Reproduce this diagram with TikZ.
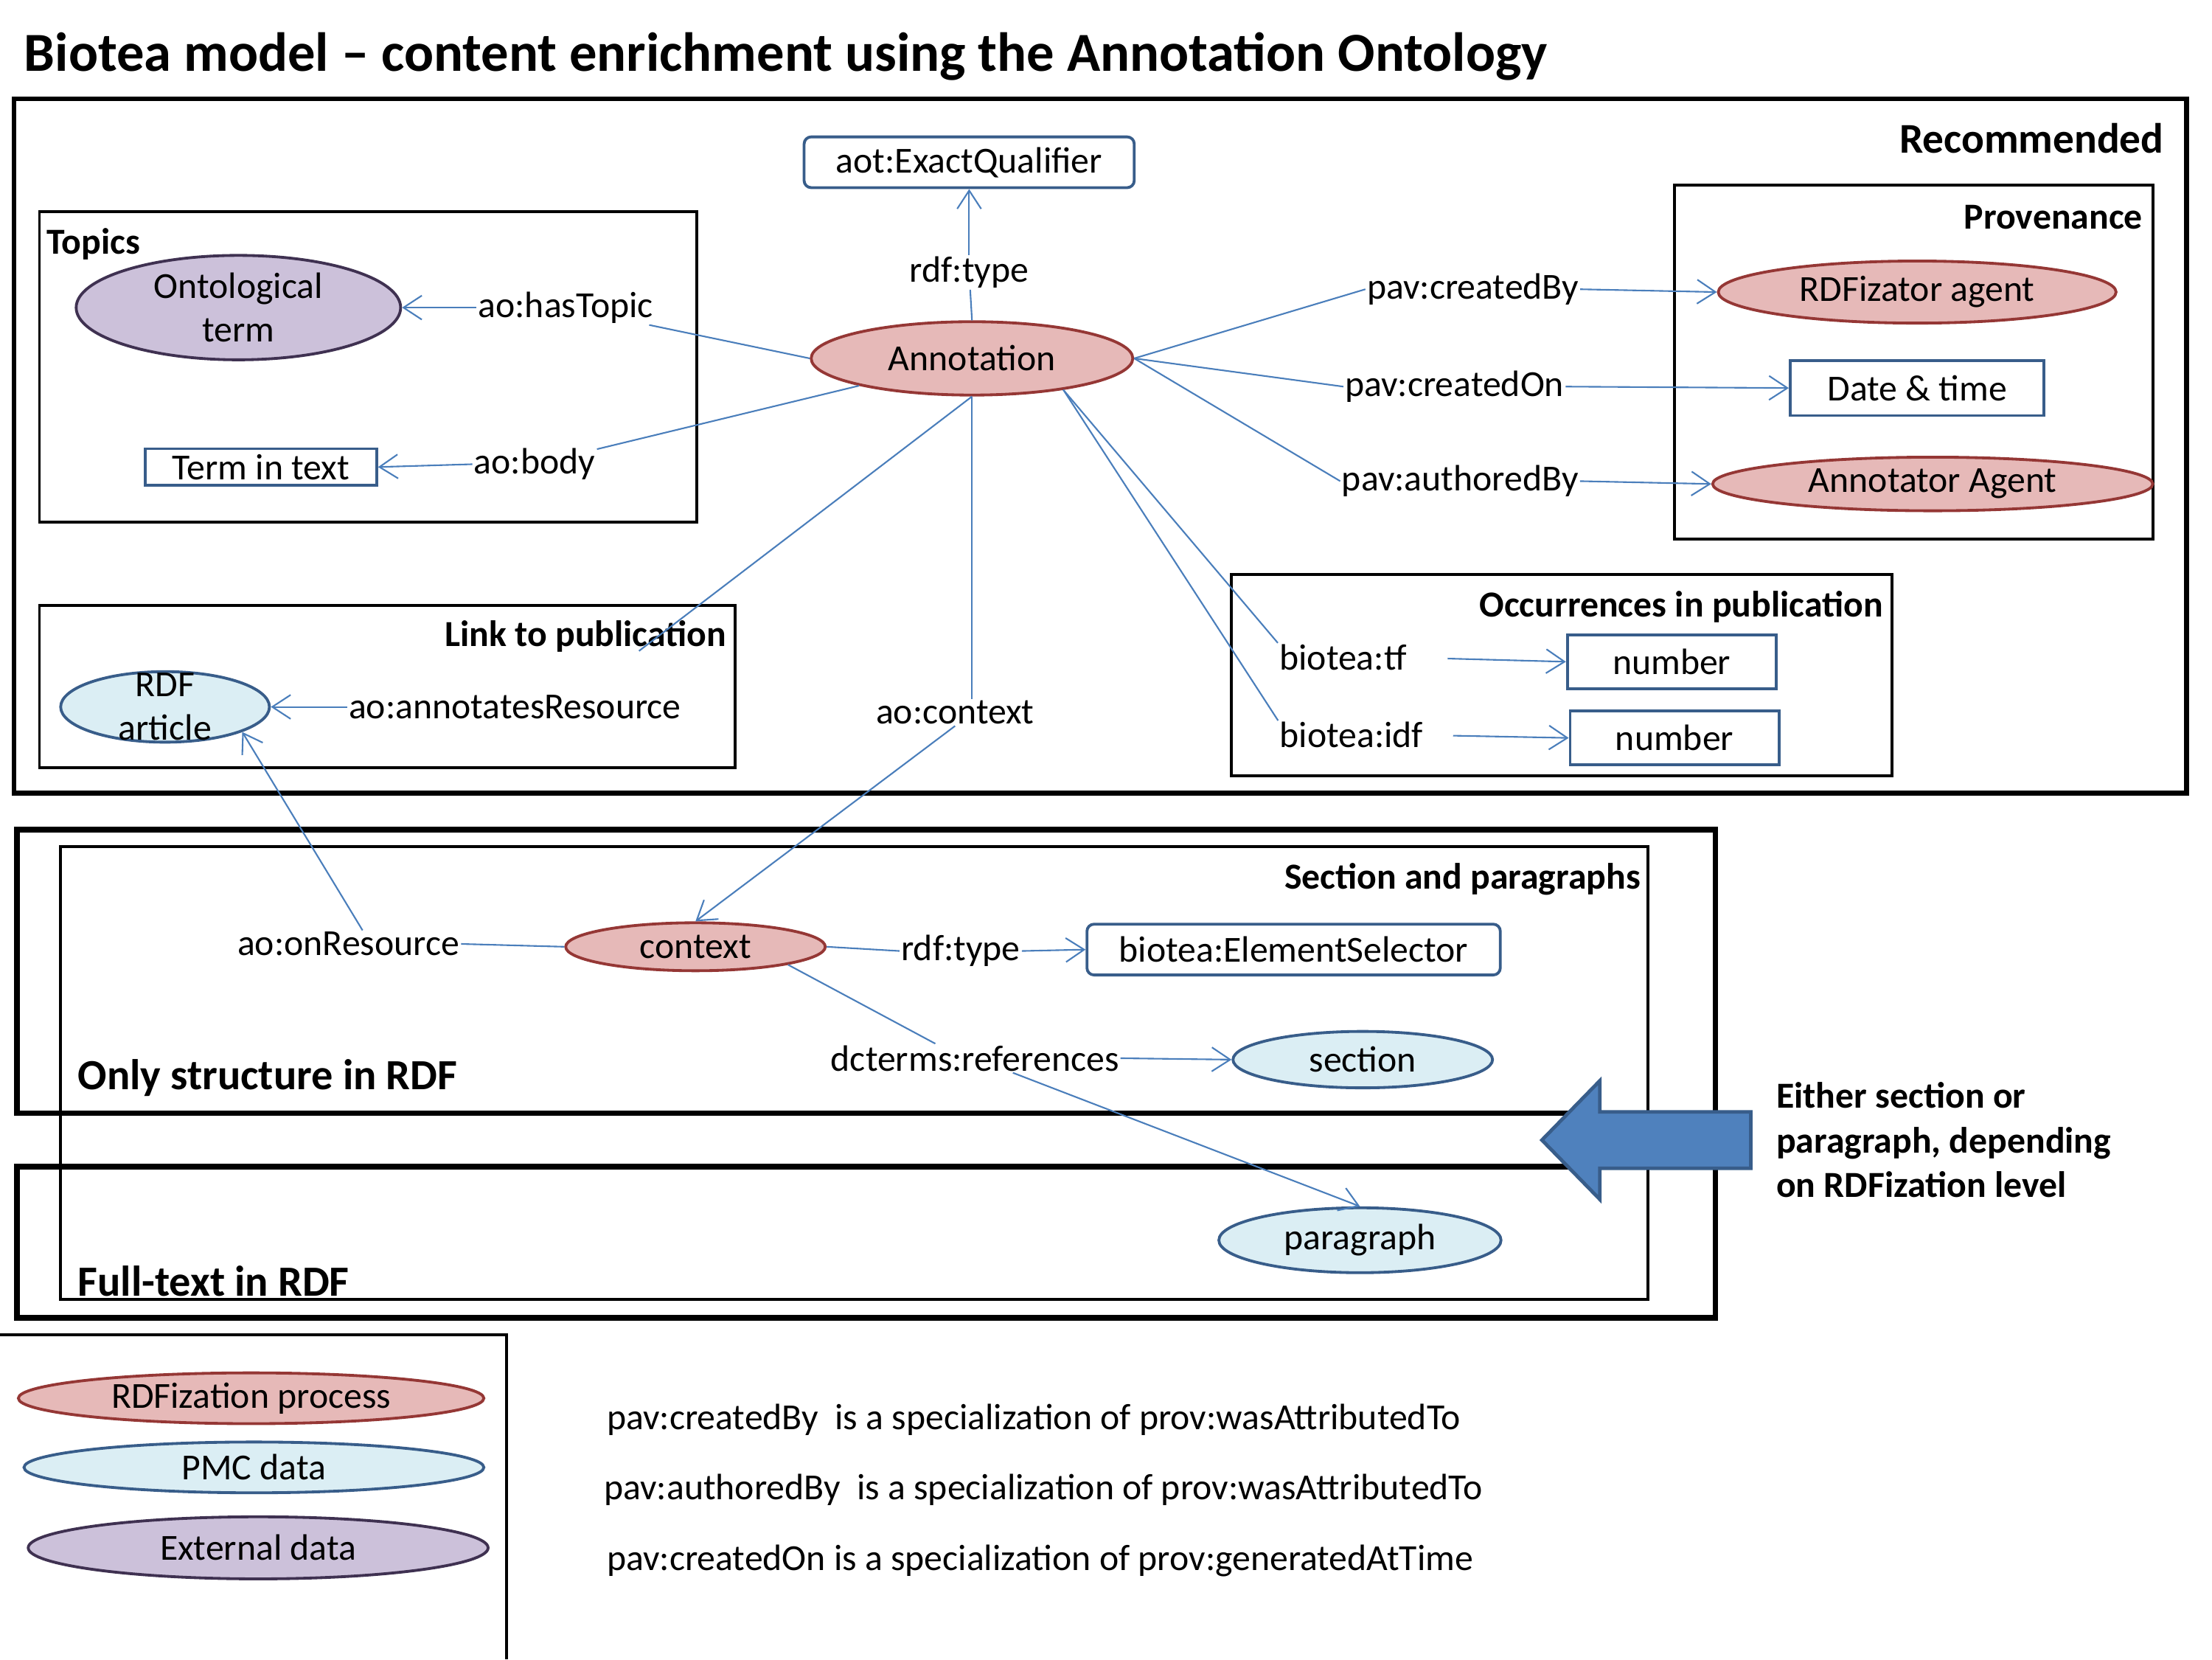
\documentclass[tikz,border=0pt]{standalone}
\usepackage{fontspec}
\setmainfont{Carlito}
\usetikzlibrary{shapes.geometric,arrows.meta}
\definecolor{procfill}{HTML}{E6B9B8}
\definecolor{procline}{HTML}{953735}
\definecolor{pmcfill}{HTML}{DBEEF4}
\definecolor{pmcline}{HTML}{385D8A}
\definecolor{extfill}{HTML}{CCC1DA}
\definecolor{extline}{HTML}{3F3151}
\definecolor{linkcol}{HTML}{4A7EBB}
\definecolor{bigarrow}{HTML}{4F81BD}
\tikzset{
  txt/.style={font=\fontsize{26}{31}\selectfont,inner sep=1pt},
  hdr/.style={font=\bfseries\fontsize{26}{31.5}\selectfont,inner sep=0pt},
  lvlhdr/.style={font=\bfseries\fontsize{30.5}{36}\selectfont,inner sep=0pt},
  procnode/.style={ellipse,draw=procline,fill=procfill,line width=2pt,inner sep=0pt,font=\fontsize{26}{31}\selectfont},
  pmcnode/.style={ellipse,draw=pmcline,fill=pmcfill,line width=2pt,inner sep=0pt,font=\fontsize{26}{31}\selectfont},
  extnode/.style={ellipse,draw=extline,fill=extfill,line width=2pt,inner sep=0pt,font=\fontsize{26}{31}\selectfont},
  valbox/.style={rectangle,draw=pmcline,fill=white,line width=2pt,inner sep=0pt,font=\fontsize{26}{31}\selectfont},
  grpbox/.style={draw=black,line width=2pt},
  lvlbox/.style={draw=black,line width=4pt},
  link/.style={draw=linkcol,line width=1.1pt},
  arr/.style={link,-{Straight Barb[length=13pt,width=17pt]}}
}

\begin{document}
\begin{tikzpicture}[x=1pt,y=-1pt]
  \useasboundingbox (0,0) rectangle (1568,1176);
  \node[anchor=west,font=\bfseries\fontsize{39}{46}\selectfont,inner sep=0pt] (title) at (17,40) {Biotea model – content enrichment using the Annotation Ontology};

  % boxes
  \draw[grpbox,line width=3.5pt] (10,70) rectangle (1550,562);
  \draw[grpbox] (28,150) rectangle (494,370);
  \draw[grpbox] (1187,131) rectangle (1526,382);
  \draw[grpbox] (873,407) rectangle (1341,550);
  \draw[grpbox] (28,429) rectangle (521,544);
  \draw[lvlbox] (12,588) rectangle (1216,789);
  \draw[lvlbox] (12,827) rectangle (1216,934);
  \draw[grpbox] (43,600) rectangle (1168,921);
  \draw[grpbox] (0,946) -- (359,946) -- (359,1176);

  \node[hdr,anchor=east,font=\bfseries\fontsize{30}{36}\selectfont] (hrec) at (1534,98) {Recommended};
  \node[hdr,anchor=west] (htop) at (33,173) {Topics};
  \node[hdr,anchor=east] (hprov) at (1519,154) {Provenance};
  \node[hdr,anchor=east] (hocc) at (1335,430) {Occurrences in publication};
  \node[hdr,anchor=east] (hlink) at (515,451) {Link to publication};
  \node[hdr,anchor=east] (hsec) at (1163,623) {Section and paragraphs};
  \node[lvlhdr,anchor=west] (hstruct) at (55,764) {Only structure in RDF};
  \node[lvlhdr,anchor=west] (hfull) at (55,908) {Full-text in RDF};

  % annotation and its properties
  \node[procnode,minimum width=228,minimum height=52] (annot) at (689,254) {Annotation};
  \node[valbox,rounded corners=5pt,minimum width=234,minimum height=36] (exact) at (687,115) {aot:ExactQualifier};
  \node[txt] (typeA) at (687,193) {rdf:type};
  \node[extnode,minimum width=230,minimum height=74] (onto) at (169,218) {};
  \node[txt,align=center] (ontotxt) at (169,218) {Ontological\\term};
  \node[valbox,minimum width=164,minimum height=26] (term) at (185,331) {Term in text};
  \node[txt] (hastopic) at (401,218) {ao:hasTopic};
  \node[txt] (body) at (379,329) {ao:body};
  \node[pmcnode,minimum width=148,minimum height=50] (rdfart) at (117,501) {};
  \node[txt,align=center] (rdfarttxt) at (117,501) {RDF\\article};
  \node[txt] (annres) at (365,501) {ao:annotatesResource};
  \node[txt] (ctxlbl) at (677,505) {ao:context};

  \node[procnode,minimum width=282,minimum height=44] (rdfizator) at (1359,207) {RDFizator agent};
  \node[valbox,minimum width=180,minimum height=39] (datetime) at (1359,275) {Date \& time};
  \node[procnode,minimum width=312,minimum height=38] (annotator) at (1370,343) {Annotator Agent};
  \node[txt] (createdby) at (1044,205) {pav:createdBy};
  \node[txt] (createdon) at (1031,274) {pav:createdOn};
  \node[txt] (authoredby) at (1035,341) {pav:authoredBy};

  \node[txt] (tf) at (952,466) {biotea:tf};
  \node[txt] (idf) at (958,521) {biotea:idf};
  \node[valbox,minimum width=148,minimum height=38] (numtf) at (1185,469) {number};
  \node[valbox,minimum width=148,minimum height=38] (numidf) at (1187,523) {number};

  % context
  \node[procnode,minimum width=184,minimum height=34] (context) at (493,671) {context};
  \node[txt] (onres) at (247,669) {ao:onResource};
  \node[txt] (typeB) at (681,674) {rdf:type};
  \node[valbox,rounded corners=5pt,minimum width=293,minimum height=36] (selector) at (917,673) {biotea:ElementSelector};
  \node[txt] (dcref) at (691,750) {dcterms:references};
  \node[pmcnode,minimum width=184,minimum height=40] (section) at (966,751) {section};
  \node[pmcnode,minimum width=200,minimum height=46] (paragraph) at (964,879) {paragraph};

  % connectors
  \draw[link] (annot.north) -- (typeA);
  \draw[arr] (typeA) -- (exact.south);
  \draw[link] (annot.west) -- (hastopic);
  \draw[arr] (hastopic.west) -- (onto.east);
  \draw[link] (annot) -- (body);
  \draw[arr] (body.west) -- (term.east);
  \draw[link] (annot.south) -- ([xshift=-31pt,yshift=30pt]annres.north east);
  \draw[arr] (annres.west) -- (rdfart.east);
  \draw[link] (annot.south) -- (annot.south |- ctxlbl.north);
  \draw[arr] (ctxlbl.south) -- (context.north);
  \draw[link] (annot.east) -- (createdby.west);
  \draw[arr] (createdby.east) -- (rdfizator.west);
  \draw[link] (annot.east) -- (createdon.west);
  \draw[arr] (createdon.east) -- (datetime.west);
  \draw[link] (annot.east) -- (authoredby.west);
  \draw[arr] (authoredby.east) -- (annotator.west);
  \draw[link] (annot.-19) -- (tf.north west);
  \draw[link] (annot.-19) -- (idf.north west);
  \draw[arr,shorten <=28pt] (tf.east) -- (numtf.west);
  \draw[arr,shorten <=20pt] (idf.east) -- (numidf.west);
  \draw[link] (context.west) -- (onres.east);
  \draw[arr] ([xshift=10pt]onres.north) -- (rdfart.-18);
  \draw[link] (context.east) -- (typeB.west);
  \draw[arr] (typeB.east) -- (selector.west);
  \draw[link] (context.-11) -- ([xshift=-28pt]dcref.north);
  \draw[arr] (dcref.east) -- (section.west);
  \draw[arr] ([xshift=27pt]dcref.south) -- (paragraph.north);

  % level arrow
  \draw[fill=bigarrow,draw=pmcline,line width=2.5pt] (1093,808) -- (1134,766) -- (1134,788) -- (1241,788) -- (1241,828) -- (1134,828) -- (1134,850) -- cycle;
  \node[hdr,anchor=west,align=left] (levelnote) at (1259,808) {Either section or\\paragraph, depending\\on RDFization level};

  % legend
  \node[procnode,minimum width=330,minimum height=36] (legproc) at (178,991) {RDFization process};
  \node[pmcnode,minimum width=326,minimum height=36] (legpmc) at (180,1040) {PMC data};
  \node[extnode,minimum width=326,minimum height=44] (legext) at (183,1097) {External data};
  \node[txt,anchor=west] (noteA) at (429,1006) {pav:createdBy\ \ is a specialization of prov:wasAttributedTo};
  \node[txt,anchor=west] (noteB) at (427,1056) {pav:authoredBy\ \ is a specialization of prov:wasAttributedTo};
  \node[txt,anchor=west] (noteC) at (429,1106) {pav:createdOn is a specialization of prov:generatedAtTime};
\end{tikzpicture}
\end{document}
